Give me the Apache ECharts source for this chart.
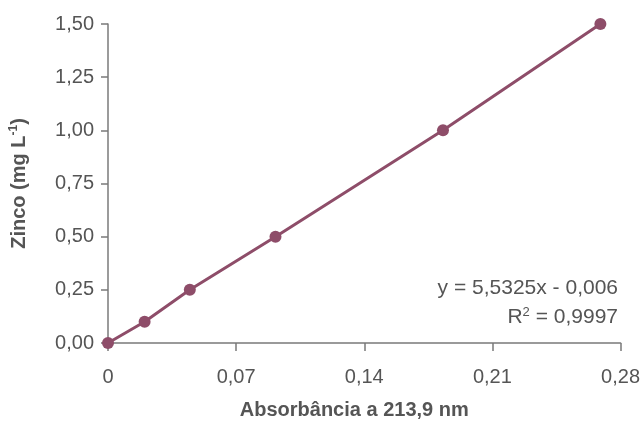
<!DOCTYPE html>
<html><head><meta charset="utf-8">
<script src="https://cdn.jsdelivr.net/npm/echarts@6/dist/echarts.min.js"></script>
<style>html,body{margin:0;padding:0;background:#fff}#c{width:643px;height:427px}</style>
</head><body><div id="c"></div>
<script>
const absorbance = [0, 0.020, 0.0447, 0.0915, 0.183, 0.269];
const zinc = [0, 0.10, 0.25, 0.50, 1.00, 1.50];
const xTicks = [0, 0.07, 0.14, 0.21, 0.28];
const yTicks = [0, 0.25, 0.5, 0.75, 1.0, 1.25, 1.5];
const equation = 'y = 5,5325x - 0,006';
const r2 = '0,9997';

const fmt = (v, d) => v.toFixed(d).replace('.', ',');
const chart = echarts.init(document.getElementById('c'));
const font = '"Liberation Sans", Arial, sans-serif';
const grey = '#555';
const axisGrey = '#7a7a7a';
const lineColor = '#8e4d69';
chart.setOption({
  animation: false,
  textStyle: {fontFamily: font},
  grid: {left: 107, right: 22, top: 24, bottom: 84, containLabel: false},
  xAxis: {
    type: 'value', min: 0, max: 0.28, interval: 0.07,
    name: 'Absorbância a 213,9 nm', nameLocation: 'middle', nameGap: 57,
    nameTextStyle: {fontSize: 20, fontWeight: 'bold', color: grey, fontFamily: font, padding: [0, 20, 0, 0]},
    axisLine: {show: true, lineStyle: {color: axisGrey, width: 1.5}},
    axisTick: {show: true, length: 8, lineStyle: {color: axisGrey, width: 1.5}},
    splitLine: {show: false},
    axisLabel: {fontSize: 20, color: grey, margin: 24, fontFamily: font,
      formatter: v => { const i = xTicks.findIndex(t => Math.abs(t - v) < 1e-9); return i < 0 ? '' : (i === 0 ? '0' : fmt(xTicks[i], 2)); }}
  },
  yAxis: {
    type: 'value', min: 0, max: 1.5, interval: 0.25,
    name: '{n|Zinco (mg L}{s|-1}{n|)}', nameLocation: 'middle', nameGap: 78,
    nameTextStyle: {fontSize: 20, fontWeight: 'bold', color: grey, fontFamily: font,
      rich: {n: {fontSize: 20, fontWeight: 'bold', color: grey, fontFamily: font},
             s: {fontSize: 12, fontWeight: 'bold', color: grey, fontFamily: font, padding: [0, 0, 10, 0]}}},
    axisLine: {show: true, lineStyle: {color: axisGrey, width: 1.5}},
    axisTick: {show: true, length: 7, lineStyle: {color: axisGrey, width: 1.5}},
    splitLine: {show: false},
    axisLabel: {fontSize: 20, color: grey, margin: 14, fontFamily: font,
      formatter: v => { const i = yTicks.findIndex(t => Math.abs(t - v) < 1e-9); return i < 0 ? '' : fmt(yTicks[i], 2); }}
  },
  graphic: [
    {type: 'text', right: 25, top: 278, style: {text: equation, font: '21px ' + font, fill: grey, textAlign: 'right'}},
    {type: 'text', right: 25, top: 306, style: {
      text: '{n|R}{s|2}{n| = ' + r2 + '}',
      rich: {n: {fontSize: 21, fill: grey, fontFamily: font}, s: {fontSize: 13, fill: grey, fontFamily: font, padding: [0, 0, 10, 0]}}
    }}
  ],
  series: [{
    type: 'line', data: absorbance.map((x, i) => [x, zinc[i]]),
    symbol: 'circle', symbolSize: 12, showSymbol: true,
    lineStyle: {color: lineColor, width: 3},
    itemStyle: {color: lineColor}, z: 3
  }]
});
</script></body></html>
